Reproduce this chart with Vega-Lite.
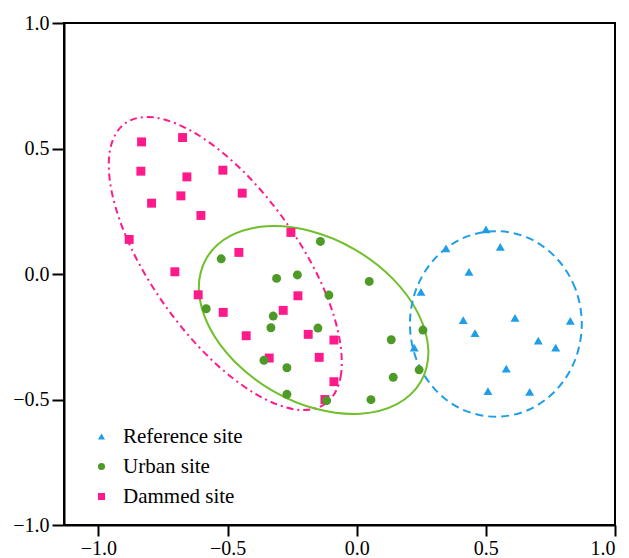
{
  "$schema": "https://vega.github.io/schema/vega-lite/v6.json",
  "width": 551,
  "height": 502,
  "autosize": "none",
  "padding": {"left": 64, "top": 23, "right": 14, "bottom": 33},
  "background": "white",
  "config": {
    "font": "'Liberation Serif', 'DejaVu Serif', serif",
    "view": {"stroke": "black", "strokeWidth": 2},
    "axis": {
      "domainColor": "black", "domainWidth": 2, "tickColor": "black", "tickWidth": 2,
      "labelFont": "'Liberation Serif', 'DejaVu Serif', serif", "labelFontSize": 20, "labelColor": "black",
      "grid": false, "title": null
    },
    "legend": {"labelFont": "'Liberation Serif', 'DejaVu Serif', serif"}
  },
  "datasets": {
    "points": [
      {"site": "Reference site", "x": 0.5005, "y": 0.1775},
      {"site": "Reference site", "x": 0.3456, "y": 0.1019},
      {"site": "Reference site", "x": 0.5559, "y": 0.1083},
      {"site": "Reference site", "x": 0.4347, "y": 0.0088},
      {"site": "Reference site", "x": 0.2488, "y": -0.0709},
      {"site": "Reference site", "x": 0.4126, "y": -0.1835},
      {"site": "Reference site", "x": 0.6128, "y": -0.1744},
      {"site": "Reference site", "x": 0.8269, "y": -0.1863},
      {"site": "Reference site", "x": 0.4579, "y": -0.2353},
      {"site": "Reference site", "x": 0.7030, "y": -0.2659},
      {"site": "Reference site", "x": 0.7704, "y": -0.2938},
      {"site": "Reference site", "x": 0.2228, "y": -0.2938},
      {"site": "Reference site", "x": 0.5791, "y": -0.3774},
      {"site": "Reference site", "x": 0.5082, "y": -0.4662},
      {"site": "Reference site", "x": 0.6697, "y": -0.4701},
      {"site": "Dammed site", "x": -0.8327, "y": 0.5263},
      {"site": "Dammed site", "x": -0.6740, "y": 0.5438},
      {"site": "Dammed site", "x": -0.8354, "y": 0.4096},
      {"site": "Dammed site", "x": -0.6573, "y": 0.3869},
      {"site": "Dammed site", "x": -0.5179, "y": 0.4136},
      {"site": "Dammed site", "x": -0.7940, "y": 0.2822},
      {"site": "Dammed site", "x": -0.6805, "y": 0.3113},
      {"site": "Dammed site", "x": -0.4432, "y": 0.3221},
      {"site": "Dammed site", "x": -0.6031, "y": 0.2333},
      {"site": "Dammed site", "x": -0.8807, "y": 0.1377},
      {"site": "Dammed site", "x": -0.2546, "y": 0.1656},
      {"site": "Dammed site", "x": -0.4560, "y": 0.0860},
      {"site": "Dammed site", "x": -0.7038, "y": 0.0088},
      {"site": "Dammed site", "x": -0.6135, "y": -0.0828},
      {"site": "Dammed site", "x": -0.2275, "y": -0.0868},
      {"site": "Dammed site", "x": -0.5167, "y": -0.1529},
      {"site": "Dammed site", "x": -0.2844, "y": -0.1449},
      {"site": "Dammed site", "x": -0.4277, "y": -0.2460},
      {"site": "Dammed site", "x": -0.1876, "y": -0.2404},
      {"site": "Dammed site", "x": -0.0881, "y": -0.2631},
      {"site": "Dammed site", "x": -0.3386, "y": -0.3348},
      {"site": "Dammed site", "x": -0.1450, "y": -0.3320},
      {"site": "Dammed site", "x": -0.0881, "y": -0.4291},
      {"site": "Dammed site", "x": -0.1229, "y": -0.5000},
      {"site": "Urban site", "x": -0.5245, "y": 0.0605},
      {"site": "Urban site", "x": -0.1404, "y": 0.1298},
      {"site": "Urban site", "x": -0.3100, "y": -0.0175},
      {"site": "Urban site", "x": -0.2294, "y": -0.0036},
      {"site": "Urban site", "x": 0.0486, "y": -0.0295},
      {"site": "Urban site", "x": -0.1075, "y": -0.0840},
      {"site": "Urban site", "x": -0.5826, "y": -0.1385},
      {"site": "Urban site", "x": -0.3231, "y": -0.1676},
      {"site": "Urban site", "x": -0.3320, "y": -0.2142},
      {"site": "Urban site", "x": -0.1500, "y": -0.2154},
      {"site": "Urban site", "x": 0.1338, "y": -0.2619},
      {"site": "Urban site", "x": 0.2565, "y": -0.2233},
      {"site": "Urban site", "x": -0.3591, "y": -0.3439},
      {"site": "Urban site", "x": -0.2701, "y": -0.3734},
      {"site": "Urban site", "x": 0.2418, "y": -0.3818},
      {"site": "Urban site", "x": 0.1415, "y": -0.4116},
      {"site": "Urban site", "x": -0.2701, "y": -0.4793},
      {"site": "Urban site", "x": -0.1164, "y": -0.5048},
      {"site": "Urban site", "x": 0.0552, "y": -0.5008}
    ],
    "ellipses": [
      {"grp": "pink", "i": 0, "x": -0.1212, "y": -0.5171},
      {"grp": "pink", "i": 1, "x": -0.0622, "y": -0.4096},
      {"grp": "pink", "i": 2, "x": -0.0711, "y": -0.2337},
      {"grp": "pink", "i": 3, "x": -0.1462, "y": -0.0155},
      {"grp": "pink", "i": 4, "x": -0.2771, "y": 0.2114},
      {"grp": "pink", "i": 5, "x": -0.4428, "y": 0.4128},
      {"grp": "pink", "i": 6, "x": -0.6186, "y": 0.5569},
      {"grp": "pink", "i": 7, "x": -0.7777, "y": 0.6230},
      {"grp": "pink", "i": 8, "x": -0.8960, "y": 0.6007},
      {"grp": "pink", "i": 9, "x": -0.9551, "y": 0.4932},
      {"grp": "pink", "i": 10, "x": -0.9462, "y": 0.3173},
      {"grp": "pink", "i": 11, "x": -0.8711, "y": 0.0991},
      {"grp": "pink", "i": 12, "x": -0.7402, "y": -0.1278},
      {"grp": "pink", "i": 13, "x": -0.5744, "y": -0.3292},
      {"grp": "pink", "i": 14, "x": -0.3986, "y": -0.4733},
      {"grp": "pink", "i": 15, "x": -0.2395, "y": -0.5394},
      {"grp": "green", "i": 0, "x": 0.2480, "y": -0.4297},
      {"grp": "green", "i": 1, "x": 0.2774, "y": -0.3029},
      {"grp": "green", "i": 2, "x": 0.2383, "y": -0.1580},
      {"grp": "green", "i": 3, "x": 0.1384, "y": -0.0175},
      {"grp": "green", "i": 4, "x": -0.0083, "y": 0.0983},
      {"grp": "green", "i": 5, "x": -0.1791, "y": 0.1712},
      {"grp": "green", "i": 6, "x": -0.3479, "y": 0.1899},
      {"grp": "green", "i": 7, "x": -0.4893, "y": 0.1517},
      {"grp": "green", "i": 8, "x": -0.5814, "y": 0.0627},
      {"grp": "green", "i": 9, "x": -0.6108, "y": -0.0641},
      {"grp": "green", "i": 10, "x": -0.5717, "y": -0.2090},
      {"grp": "green", "i": 11, "x": -0.4718, "y": -0.3495},
      {"grp": "green", "i": 12, "x": -0.3251, "y": -0.4654},
      {"grp": "green", "i": 13, "x": -0.1543, "y": -0.5382},
      {"grp": "green", "i": 14, "x": 0.0145, "y": -0.5569},
      {"grp": "green", "i": 15, "x": 0.1559, "y": -0.5187},
      {"grp": "blue", "i": 0, "x": 0.8714, "y": -0.1990},
      {"grp": "blue", "i": 1, "x": 0.8461, "y": -0.0574},
      {"grp": "blue", "i": 2, "x": 0.7740, "y": 0.0624},
      {"grp": "blue", "i": 3, "x": 0.6662, "y": 0.1427},
      {"grp": "blue", "i": 4, "x": 0.5388, "y": 0.1708},
      {"grp": "blue", "i": 5, "x": 0.4114, "y": 0.1427},
      {"grp": "blue", "i": 6, "x": 0.3036, "y": 0.0624},
      {"grp": "blue", "i": 7, "x": 0.2315, "y": -0.0574},
      {"grp": "blue", "i": 8, "x": 0.2062, "y": -0.1990},
      {"grp": "blue", "i": 9, "x": 0.2315, "y": -0.3406},
      {"grp": "blue", "i": 10, "x": 0.3036, "y": -0.4604},
      {"grp": "blue", "i": 11, "x": 0.4114, "y": -0.5407},
      {"grp": "blue", "i": 12, "x": 0.5388, "y": -0.5688},
      {"grp": "blue", "i": 13, "x": 0.6662, "y": -0.5407},
      {"grp": "blue", "i": 14, "x": 0.7740, "y": -0.4604},
      {"grp": "blue", "i": 15, "x": 0.8461, "y": -0.3406}
    ]
  },
  "encoding": {
    "x": {
      "field": "x", "type": "quantitative",
      "scale": {"domain": [-1.133, 1.0], "nice": false, "zero": false},
      "axis": {"values": [-1, -0.5, 0, 0.5, 1], "format": ".1f", "tickSize": 11, "labelPadding": 2}
    },
    "y": {
      "field": "y", "type": "quantitative",
      "scale": {"domain": [-1.0, 1.0], "nice": false, "zero": false},
      "axis": {"values": [-1, -0.5, 0, 0.5, 1], "format": ".1f", "tickSize": 12, "labelPadding": 3}
    }
  },
  "layer": [
    {
      "data": {"name": "ellipses"},
      "transform": [{"filter": "datum.grp == 'pink'"}],
      "mark": {"type": "line", "interpolate": "cardinal-closed", "color": "#ff1a8c", "strokeWidth": 2, "strokeDash": [7, 4, 2, 4]},
      "encoding": {"order": {"field": "i", "type": "quantitative"}}
    },
    {
      "data": {"name": "ellipses"},
      "transform": [{"filter": "datum.grp == 'green'"}],
      "mark": {"type": "line", "interpolate": "cardinal-closed", "color": "#6fc02a", "strokeWidth": 2},
      "encoding": {"order": {"field": "i", "type": "quantitative"}}
    },
    {
      "data": {"name": "ellipses"},
      "transform": [{"filter": "datum.grp == 'blue'"}],
      "mark": {"type": "line", "interpolate": "cardinal-closed", "color": "#1f9ee8", "strokeWidth": 2, "strokeDash": [8, 5]},
      "encoding": {"order": {"field": "i", "type": "quantitative"}}
    },
    {
      "data": {"name": "points"},
      "mark": {"type": "point", "filled": true, "opacity": 1, "size": 80},
      "encoding": {
        "color": {
          "field": "site", "type": "nominal",
          "scale": {"domain": ["Reference site", "Urban site", "Dammed site"], "range": ["#1f9ee8", "#4e9a26", "#ff1a8c"]},
          "legend": {
            "title": null, "orient": "none", "legendX": 27, "legendY": 403,
            "labelFontSize": 21, "labelColor": "black",
            "symbolSize": 50, "labelOffset": 11, "rowPadding": 8, "padding": 0
          }
        },
        "shape": {
          "field": "site", "type": "nominal",
          "scale": {"domain": ["Reference site", "Urban site", "Dammed site"], "range": ["triangle-up", "circle", "square"]}
        }
      }
    }
  ]
}
